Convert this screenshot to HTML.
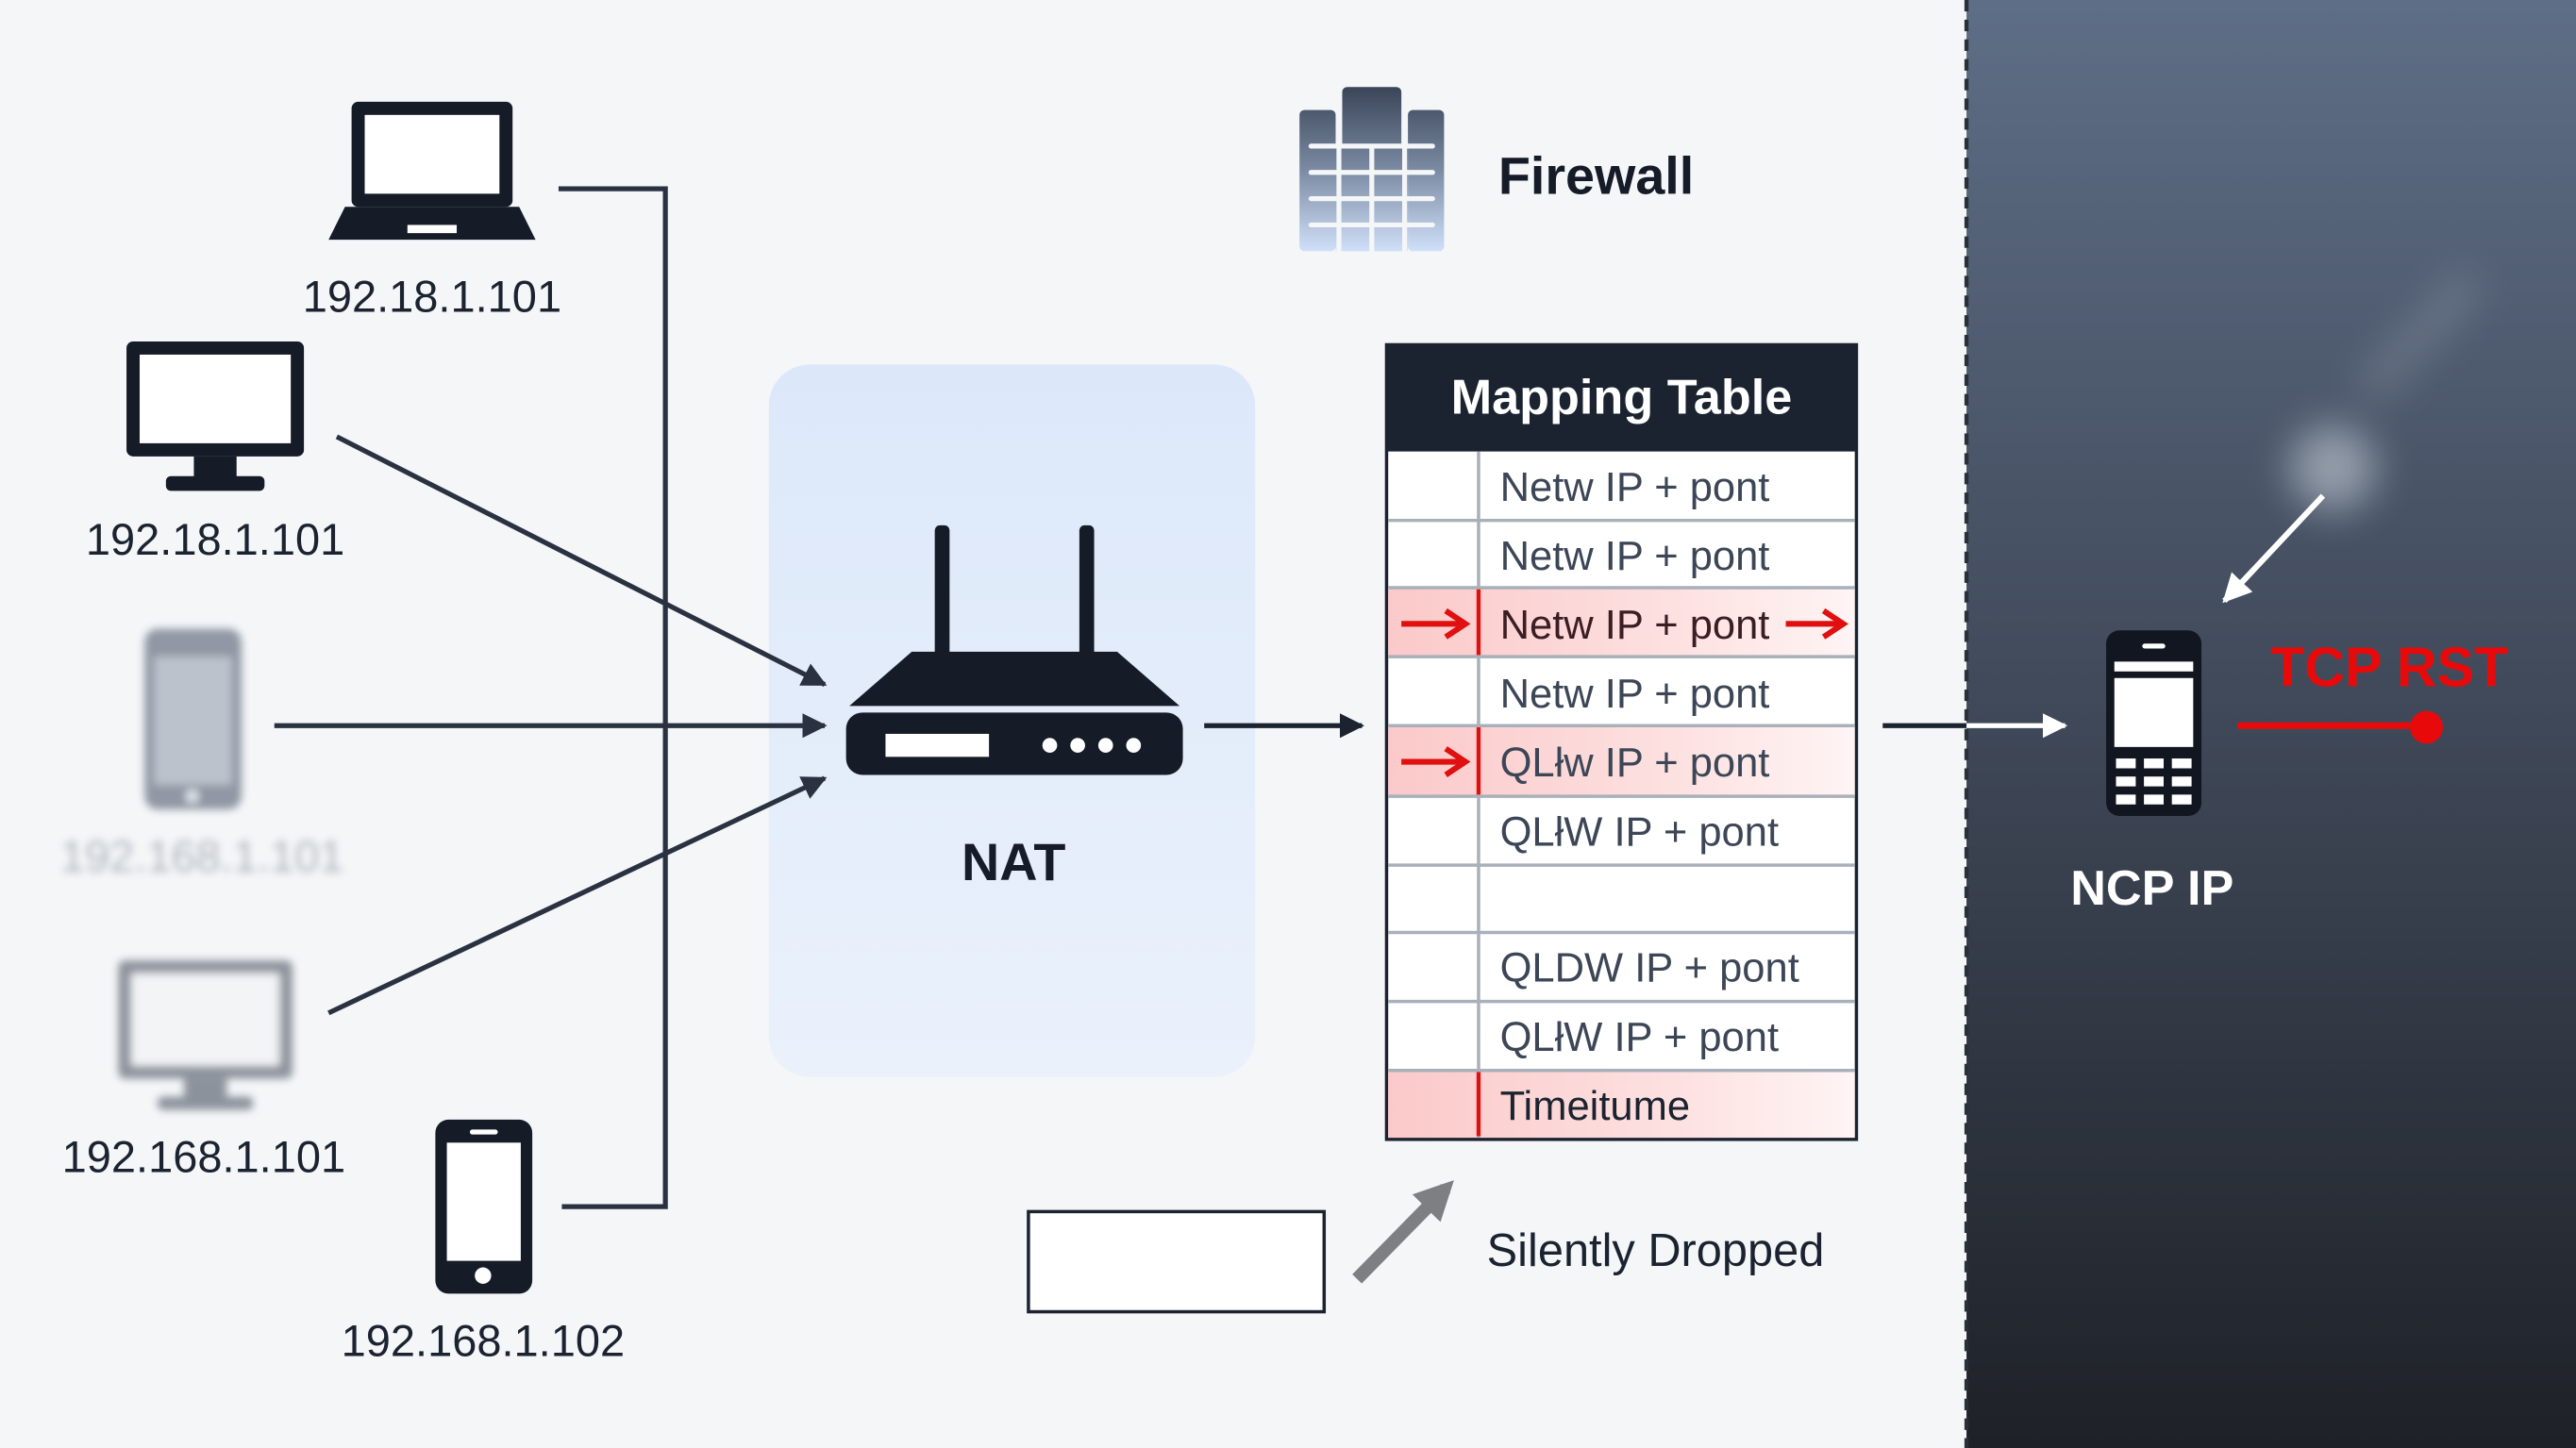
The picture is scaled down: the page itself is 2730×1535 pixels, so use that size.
<!DOCTYPE html>
<html><head><meta charset="utf-8"><style>
html,body{margin:0;padding:0;width:2730px;height:1535px;overflow:hidden;background:#f3f5f7}
svg{display:block}
text{font-family:"Liberation Sans",sans-serif}
</style></head><body>
<svg width="2730" height="1535" viewBox="0 0 1568 882" preserveAspectRatio="none" xmlns="http://www.w3.org/2000/svg">
<defs>
<linearGradient id="dark" x1="0" y1="0" x2="0" y2="1"><stop offset="0" stop-color="#5e6e86"/><stop offset="0.5" stop-color="#3f4858"/><stop offset="1" stop-color="#1e2127"/></linearGradient>
<linearGradient id="nat" x1="0" y1="0" x2="0" y2="1"><stop offset="0" stop-color="#dce8fa"/><stop offset="1" stop-color="#eaf1fb"/></linearGradient>
<linearGradient id="fw" gradientUnits="userSpaceOnUse" x1="0" y1="53" x2="0" y2="153"><stop offset="0" stop-color="#3a4558"/><stop offset="0.5" stop-color="#7a8aa2"/><stop offset="1" stop-color="#cfe0f8"/></linearGradient>
<linearGradient id="redrow" x1="0" y1="0" x2="1" y2="0"><stop offset="0" stop-color="#fbc9c9"/><stop offset="0.6" stop-color="#fde0e0"/><stop offset="1" stop-color="#fff4f4"/></linearGradient>
<filter id="blur" x="-20%" y="-20%" width="140%" height="140%"><feGaussianBlur stdDeviation="2.5"/></filter>
<filter id="blur2" x="-200%" y="-200%" width="500%" height="500%"><feGaussianBlur stdDeviation="12"/></filter>
<marker id="ah" viewBox="0 0 10 10" refX="9" refY="5" markerWidth="5" markerHeight="5" orient="auto"><path d="M0,0L10,5L0,10z" fill="#2a3242"/></marker>
<marker id="ahb" viewBox="0 0 10 10" refX="9" refY="5" markerWidth="5" markerHeight="5" orient="auto"><path d="M0,0L10,5L0,10z" fill="#1b2330"/></marker>
<marker id="ahw" viewBox="0 0 10 10" refX="9" refY="5" markerWidth="5" markerHeight="5" orient="auto"><path d="M0,0L10,5L0,10z" fill="#fff"/></marker>
<marker id="ahg" viewBox="0 0 10 10" refX="7" refY="5" markerWidth="3" markerHeight="3" orient="auto"><path d="M0,0L10,5L0,10z" fill="#7d7f82"/></marker>
</defs>
<rect width="1568" height="882" fill="#f4f6f8"/>
<rect x="1197" y="0" width="371" height="882" fill="url(#dark)"/>
<line x1="1197" y1="0" x2="1197" y2="882" stroke="#2a2f38" stroke-width="2.5" stroke-dasharray="7,5"/>
<ellipse cx="1420" cy="285" rx="26" ry="26" fill="#a7b0bc" filter="url(#blur2)" opacity="0.8"/>
<path d="M1440,240 L1505,170" stroke="#8e98a6" stroke-width="20" filter="url(#blur2)" opacity="0.4"/>

<!-- NAT box (behind arrows) -->
<rect x="468" y="222" width="296" height="434" rx="25" fill="url(#nat)"/>

<!-- laptop -->
<rect x="214" y="62" width="98" height="64" rx="4" fill="#151b27"/>
<rect x="222" y="70" width="82" height="48" fill="#fff"/>
<path d="M210,126 L316,126 L326,146 L200,146 Z" fill="#151b27"/>
<rect x="248" y="137" width="30" height="5" fill="#fff"/>
<text x="263" y="190" font-size="27" text-anchor="middle" fill="#1b2330">192.18.1.101</text>
<!-- monitor -->
<rect x="77" y="208" width="108" height="70" rx="4" fill="#151b27"/>
<rect x="85" y="216" width="92" height="54" fill="#fff"/>
<rect x="118" y="278" width="26" height="14" fill="#151b27"/>
<rect x="101" y="290" width="60" height="9" rx="3" fill="#151b27"/>
<text x="131" y="338" font-size="27" text-anchor="middle" fill="#1b2330">192.18.1.101</text>
<!-- blurred phone -->
<g filter="url(#blur)" opacity="0.75">
<rect x="88" y="383" width="59" height="110" rx="8" fill="#6f7888"/>
<rect x="94" y="400" width="47" height="78" fill="#a9b1bd"/>
<circle cx="117" cy="485" r="4" fill="#d8dde4"/>
<text x="123" y="531" font-size="27" text-anchor="middle" fill="#9aa1ab">192.168.1.101</text>
</g>
<!-- blurred monitor -->
<g filter="url(#blur)" opacity="0.8">
<rect x="72" y="585" width="106" height="72" rx="4" fill="#737a86"/>
<rect x="80" y="593" width="90" height="56" fill="#f2f4f6"/>
<rect x="112" y="657" width="26" height="12" fill="#737a86"/>
<rect x="96" y="668" width="58" height="8" rx="3" fill="#737a86"/>
</g>
<text x="124" y="714" font-size="27" text-anchor="middle" fill="#1b2330">192.168.1.101</text>
<!-- phone -->
<rect x="265" y="682" width="59" height="106" rx="8" fill="#151b27"/>
<rect x="272" y="696" width="45" height="72" fill="#fff"/>
<rect x="286" y="688" width="17" height="3" rx="1.5" fill="#fff"/>
<circle cx="294" cy="777" r="5" fill="#fff"/>
<text x="294" y="826" font-size="27" text-anchor="middle" fill="#1b2330">192.168.1.102</text>

<!-- bracket -->
<path d="M340,115 L405,115 L405,735 L342,735" fill="none" stroke="#2a3242" stroke-width="3"/>
<line x1="205" y1="266" x2="502" y2="417" stroke="#2a3242" stroke-width="3" marker-end="url(#ah)"/>
<line x1="167" y1="442" x2="502" y2="442" stroke="#2a3242" stroke-width="3" marker-end="url(#ah)"/>
<line x1="200" y1="617" x2="502" y2="474" stroke="#2a3242" stroke-width="3" marker-end="url(#ah)"/>

<!-- router -->
<rect x="569" y="320" width="9" height="80" rx="3" fill="#151b27"/>
<rect x="657" y="320" width="9" height="80" rx="3" fill="#151b27"/>
<path d="M555,397 L680,397 L718,430 L517,430 Z" fill="#151b27"/>
<rect x="515" y="434" width="205" height="38" rx="10" fill="#151b27"/>
<rect x="539" y="447" width="63" height="14" fill="#fff"/>
<circle cx="639" cy="454" r="4.5" fill="#fff"/><circle cx="656" cy="454" r="4.5" fill="#fff"/><circle cx="673" cy="454" r="4.5" fill="#fff"/><circle cx="690" cy="454" r="4.5" fill="#fff"/>
<text x="617" y="536" font-size="32" font-weight="bold" text-anchor="middle" fill="#151b27">NAT</text>
<line x1="733" y1="442" x2="829" y2="442" stroke="#1b2330" stroke-width="3" marker-end="url(#ahb)"/>

<!-- firewall -->
<rect x="791" y="67" width="22" height="86" rx="3" fill="url(#fw)"/>
<rect x="817" y="53" width="36" height="100" rx="3" fill="url(#fw)"/>
<rect x="857" y="67" width="22" height="86" rx="3" fill="url(#fw)"/>
<rect x="813" y="89" width="44" height="64" fill="url(#fw)"/>
<g stroke="#f4f6f8" stroke-width="3" stroke-linecap="round">
<line x1="798" y1="89" x2="872" y2="89"/><line x1="798" y1="105" x2="872" y2="105"/><line x1="798" y1="121" x2="872" y2="121"/><line x1="798" y1="137" x2="872" y2="137"/>
</g>
<g stroke="#f4f6f8" stroke-width="3">
<line x1="815" y1="89" x2="815" y2="154"/><line x1="835" y1="89" x2="835" y2="154"/><line x1="855" y1="89" x2="855" y2="154"/>
</g>
<text x="912" y="118" font-size="32" font-weight="bold" fill="#151b27">Firewall</text>

<!-- table -->
<rect x="844" y="210" width="286" height="484" fill="#fff" stroke="#1b2330" stroke-width="2"/>
<rect x="844" y="210" width="286" height="65" fill="#1b2330"/>
<text x="987" y="252" font-size="30" font-weight="bold" text-anchor="middle" fill="#fff">Mapping Table</text>
<rect x="845" y="358" width="284" height="42" fill="url(#redrow)"/>
<rect x="845" y="442" width="284" height="43" fill="url(#redrow)"/>
<rect x="845" y="652" width="284" height="41" fill="url(#redrow)"/>
<g stroke="#a9b0ba" stroke-width="2">
<line x1="845" y1="317" x2="1129" y2="317"/><line x1="845" y1="358" x2="1129" y2="358"/><line x1="845" y1="400" x2="1129" y2="400"/><line x1="845" y1="442" x2="1129" y2="442"/><line x1="845" y1="485" x2="1129" y2="485"/><line x1="845" y1="527" x2="1129" y2="527"/><line x1="845" y1="568" x2="1129" y2="568"/><line x1="845" y1="610" x2="1129" y2="610"/><line x1="845" y1="652" x2="1129" y2="652"/>
<line x1="900" y1="275" x2="900" y2="693"/>
</g>
<g stroke="#e01010" stroke-width="2.5"><line x1="900" y1="359" x2="900" y2="399"/><line x1="900" y1="443" x2="900" y2="484"/><line x1="900" y1="653" x2="900" y2="692"/></g>
<g font-size="25" fill="#3c4656">
<text x="913" y="305">Netw IP + pont</text>
<text x="913" y="347">Netw IP + pont</text>
<text x="913" y="389" fill="#3a1e24">Netw IP + pont</text>
<text x="913" y="431">Netw IP + pont</text>
<text x="913" y="473">QLłw IP + pont</text>
<text x="913" y="515">QLłW IP + pont</text>
<text x="913" y="598">QLDW IP + pont</text>
<text x="913" y="640">QLłW IP + pont</text>
<text x="913" y="682" fill="#1b2330">Timeitume</text>
</g>
<g stroke="#e01010" stroke-width="3.5" fill="none">
<line x1="853" y1="380" x2="890" y2="380"/><path d="M880,372 L892,380 L880,388"/>
<line x1="853" y1="464" x2="890" y2="464"/><path d="M880,456 L892,464 L880,472"/>
<line x1="1087" y1="380" x2="1120" y2="380"/><path d="M1110,372 L1122,380 L1110,388"/>
</g>

<!-- dropped -->
<rect x="626" y="738" width="180" height="61" fill="#fff" stroke="#1b2330" stroke-width="2"/>
<line x1="826" y1="779" x2="880" y2="724" stroke="#7d7f82" stroke-width="8" marker-end="url(#ahg)"/>
<text x="905" y="771" font-size="28" fill="#1b2330">Silently Dropped</text>

<!-- right side -->
<line x1="1146" y1="442" x2="1197" y2="442" stroke="#1b2330" stroke-width="3"/>
<line x1="1197" y1="442" x2="1257" y2="442" stroke="#fff" stroke-width="3" marker-end="url(#ahw)"/>
<rect x="1282" y="384" width="58" height="113" rx="8" fill="#121620"/>
<rect x="1287" y="403" width="48" height="6" fill="#fff"/>
<rect x="1287" y="413" width="48" height="42" fill="#fff"/>
<rect x="1304" y="392" width="14" height="3" rx="1.5" fill="#fff"/>
<g fill="#fff">
<rect x="1288" y="462" width="12" height="6"/><rect x="1305" y="462" width="12" height="6"/><rect x="1322" y="462" width="12" height="6"/>
<rect x="1288" y="473" width="12" height="6"/><rect x="1305" y="473" width="12" height="6"/><rect x="1322" y="473" width="12" height="6"/>
<rect x="1288" y="484" width="12" height="6"/><rect x="1305" y="484" width="12" height="6"/><rect x="1322" y="484" width="12" height="6"/>
</g>
<text x="1310" y="551" font-size="30" font-weight="bold" text-anchor="middle" fill="#fff">NCP IP</text>
<text x="1382" y="418" font-size="34" font-weight="bold" fill="#e80a0a">TCP RST</text>
<line x1="1362" y1="442" x2="1476" y2="442" stroke="#e80a0a" stroke-width="4"/>
<circle cx="1477" cy="443" r="10" fill="#e80a0a"/>
<line x1="1414" y1="302" x2="1354" y2="366" stroke="#fff" stroke-width="3.5" marker-end="url(#ahw)"/>
</svg>
</body></html>
